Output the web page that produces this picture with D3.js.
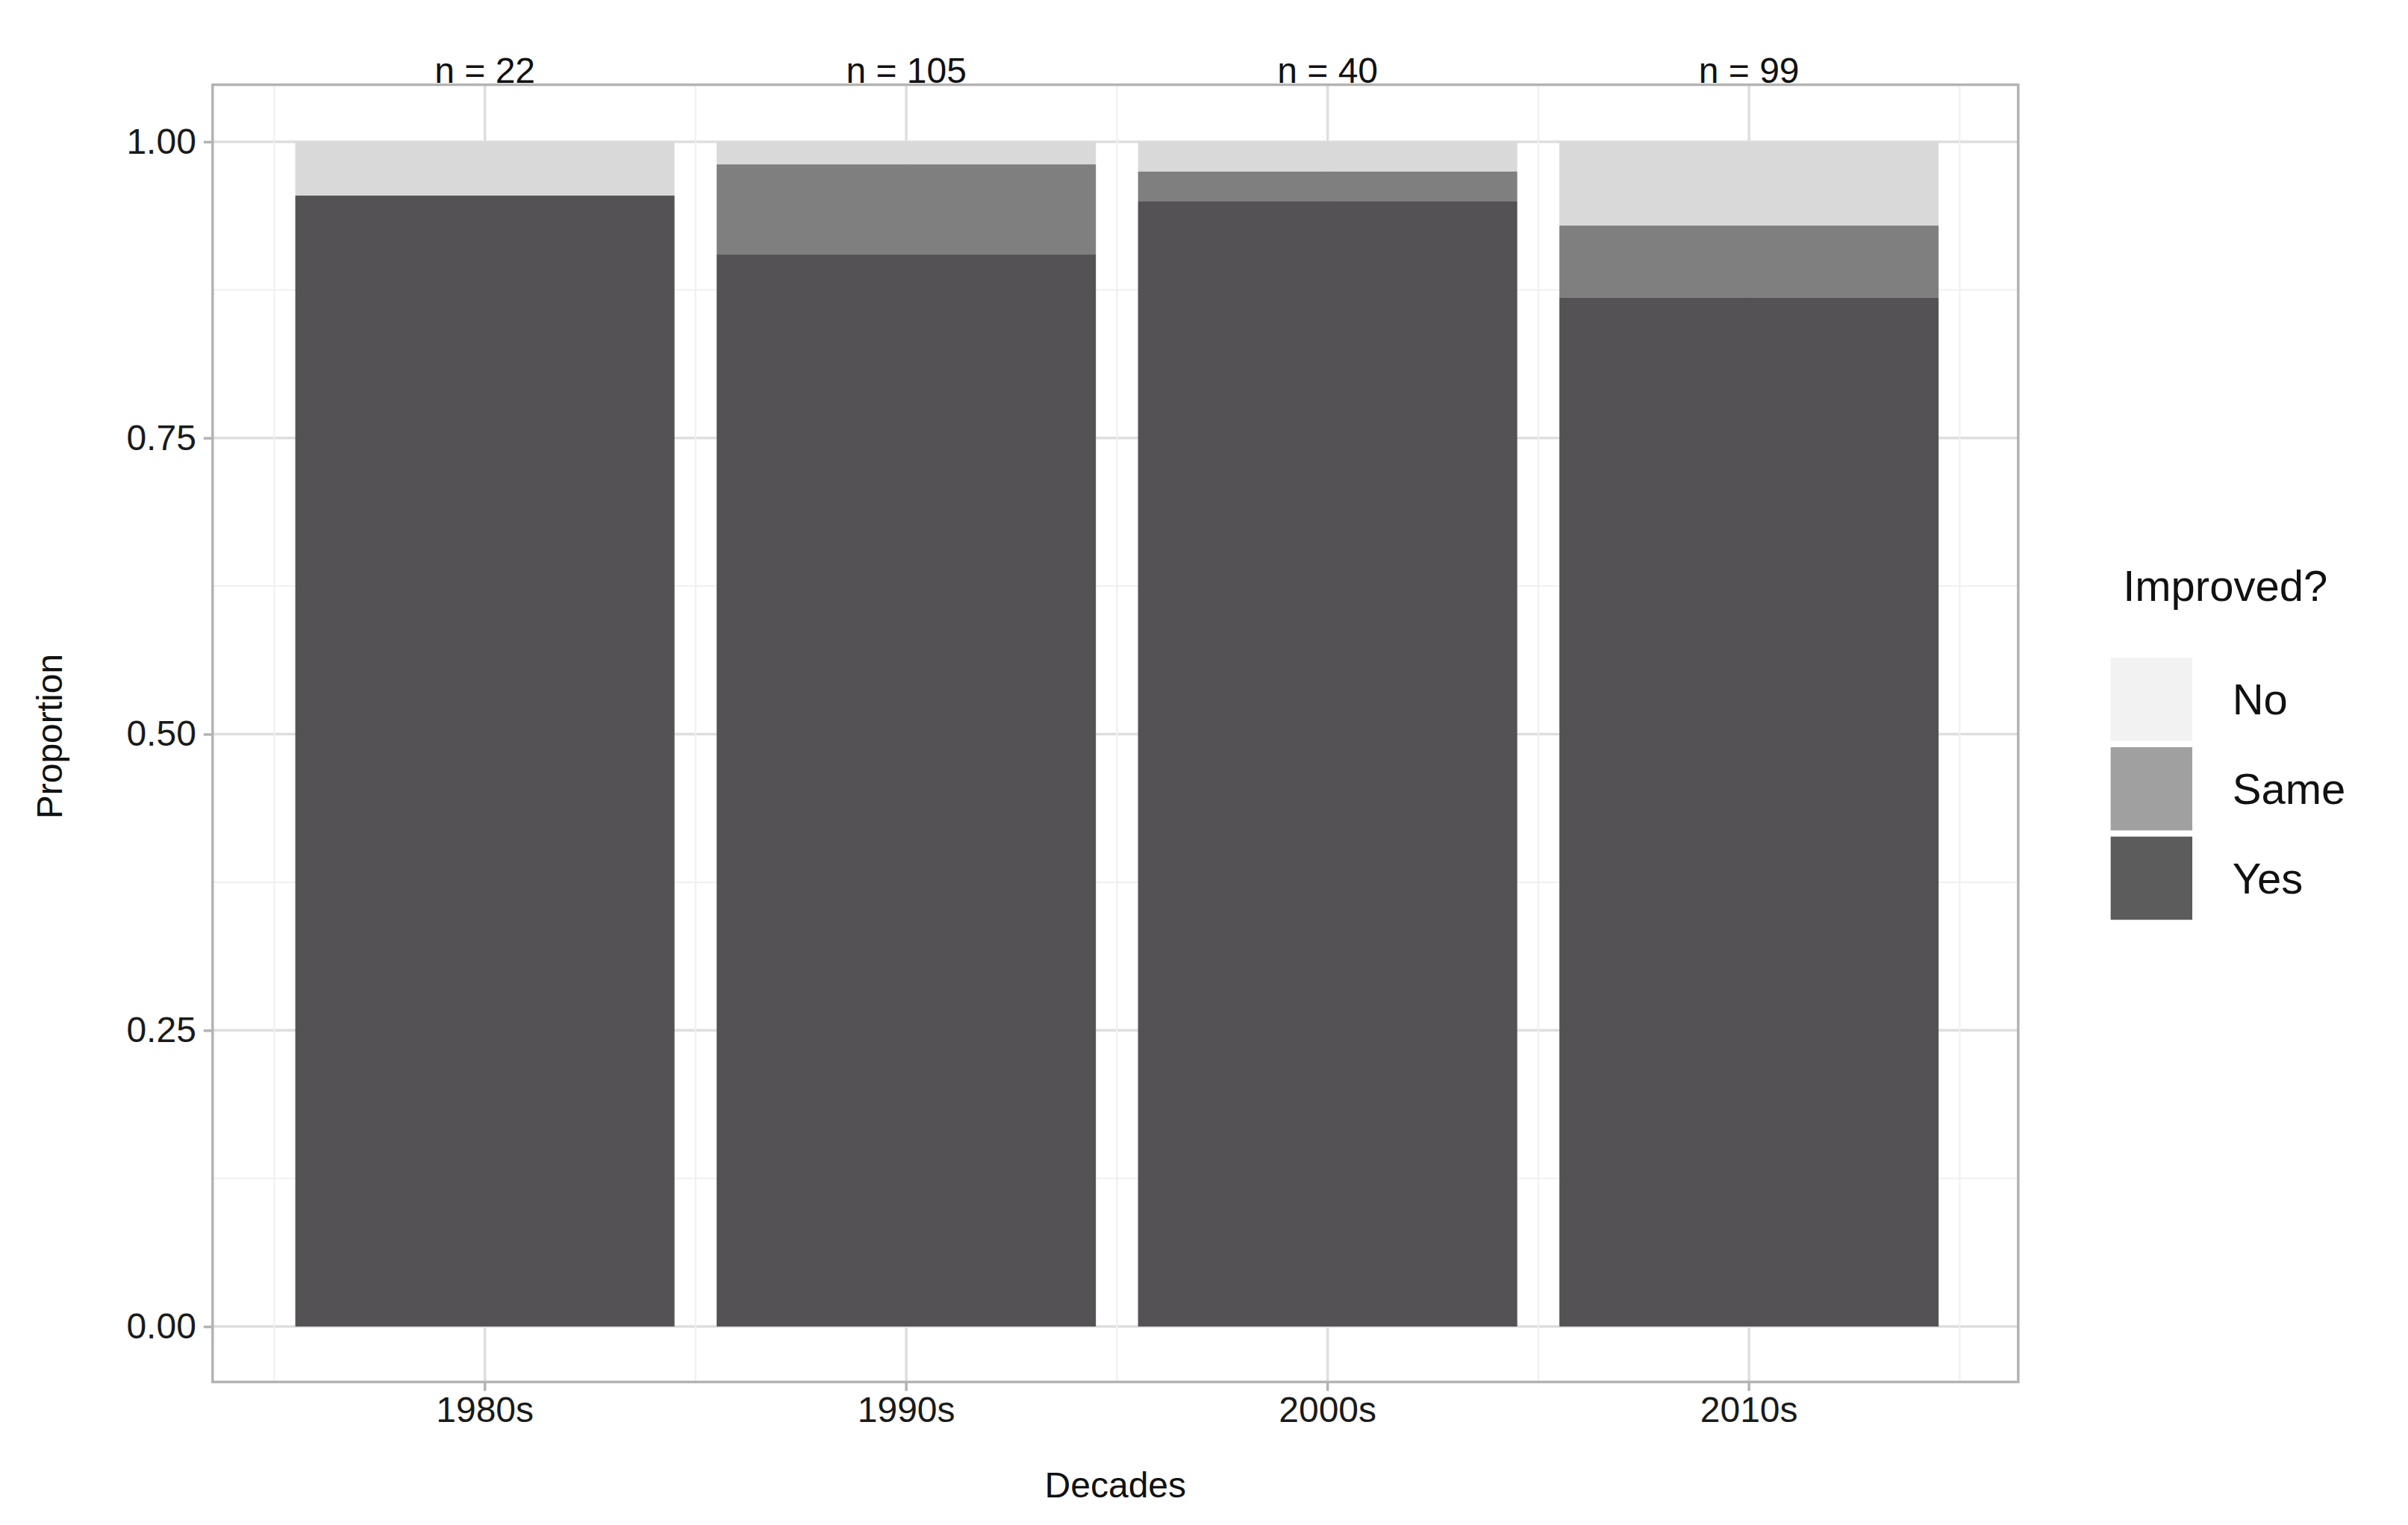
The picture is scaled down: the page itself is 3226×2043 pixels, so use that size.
<!DOCTYPE html>
<html><head><meta charset="utf-8">
<script src="https://cdn.jsdelivr.net/npm/d3@7"></script>
<style>body{margin:0;background:#fff}text{font-family:"Liberation Sans",Arial,sans-serif}</style>
</head><body><svg id="c" width="3226" height="2043"></svg>
<script>
const decades=["1980s","1990s","2000s","2010s"];
const nLabels=["n = 22","n = 105","n = 40","n = 99"];
const yes=[21/22,95/105,38/40,86/99];
const same=[0,8/105,1/40,6/99];
const no=[1/22,2/105,1/40,7/99];
const yTicks=[0,0.25,0.5,0.75,1];
const cats=["No","Same","Yes"];
const barCol={No:"#d9d9d9",Same:"#7f7f7f",Yes:"#545254"};
const keyCol={No:"#f2f2f2",Same:"#a0a0a0",Yes:"#5c5c5c"};
const s=3226/1563;
const svg=d3.select("#c");
const L=138*s,R=1310*s,T=55*s,B=897*s;
const y=d3.scaleLinear().domain([0,1]).range([861*s,92*s]);
const x=d3.scaleBand().domain(decades).range([178*s,1272*s]).paddingInner(0.1).paddingOuter(0.05);
const g=svg.append("g");
// grid
const minorY=[0.125,0.375,0.625,0.875];
minorY.forEach(v=>g.append("line").attr("x1",L).attr("x2",R).attr("y1",y(v)).attr("y2",y(v)).attr("stroke","#f0f0f0").attr("stroke-width",2));
yTicks.forEach(v=>g.append("line").attr("x1",L).attr("x2",R).attr("y1",y(v)).attr("y2",y(v)).attr("stroke","#dedede").attr("stroke-width",3.5));
const step=x.step();
decades.forEach((d,i)=>{
  const cx=x(d)+x.bandwidth()/2;
  g.append("line").attr("x1",cx).attr("x2",cx).attr("y1",T).attr("y2",B).attr("stroke","#dedede").attr("stroke-width",3.5);
  [cx-step/2,cx+step/2].forEach(mx=>g.append("line").attr("x1",mx).attr("x2",mx).attr("y1",T).attr("y2",B).attr("stroke","#f0f0f0").attr("stroke-width",2));
});
// bars
const data=decades.map((d,i)=>({d,Yes:yes[i],Same:same[i],No:no[i]}));
const stack=d3.stack().keys(["Yes","Same","No"])(data);
stack.forEach(layer=>{
  g.selectAll(null).data(layer).join("rect")
   .attr("x",p=>x(p.data.d)).attr("width",x.bandwidth())
   .attr("y",p=>y(p[1])).attr("height",p=>y(p[0])-y(p[1]))
   .attr("fill",barCol[layer.key]);
});
g.append("rect").attr("x",L).attr("y",T).attr("width",R-L).attr("height",B-T).attr("fill","none").attr("stroke","#b3b3b3").attr("stroke-width",3.5);
// axes
const ya=svg.append("g").attr("transform",`translate(${L},0)`).call(d3.axisLeft(y).tickValues(yTicks).tickFormat(d3.format(".2f")).tickSize(12).tickPadding(10));
const xa=svg.append("g").attr("transform",`translate(0,${B})`).call(d3.axisBottom(x).tickSize(12).tickPadding(8));
[ya,xa].forEach(a=>{a.select(".domain").remove();a.selectAll("line").attr("stroke","#b3b3b3").attr("stroke-width",3.5);a.selectAll("text").attr("font-size",48).attr("fill","#1a1a1a").attr("font-family","Liberation Sans, Arial");});
// n labels
decades.forEach((d,i)=>svg.append("text").attr("x",x(d)+x.bandwidth()/2).attr("y",54*s).attr("text-anchor","middle").attr("font-size",48).attr("fill","#111").text(nLabels[i]));
svg.append("text").attr("x",724*s).attr("y",972*s).attr("text-anchor","middle").attr("font-size",48).attr("fill","#111").text("Decades");
svg.append("text").attr("transform",`translate(${40*s},${478*s}) rotate(-90)`).attr("text-anchor","middle").attr("font-size",48).attr("fill","#111").text("Proportion");
// legend
svg.append("text").attr("x",1378*s).attr("y",390*s).attr("font-size",58).attr("fill","#111").text("Improved?");
cats.forEach((c,i)=>{
  const ky=(427+i*58)*s;
  svg.append("rect").attr("x",1370*s).attr("y",ky).attr("width",53*s).attr("height",54*s).attr("fill",keyCol[c]);
  svg.append("text").attr("x",1449*s).attr("y",ky+27*s).attr("dy","0.35em").attr("font-size",58).attr("fill","#111").text(c);
});
</script></body></html>
